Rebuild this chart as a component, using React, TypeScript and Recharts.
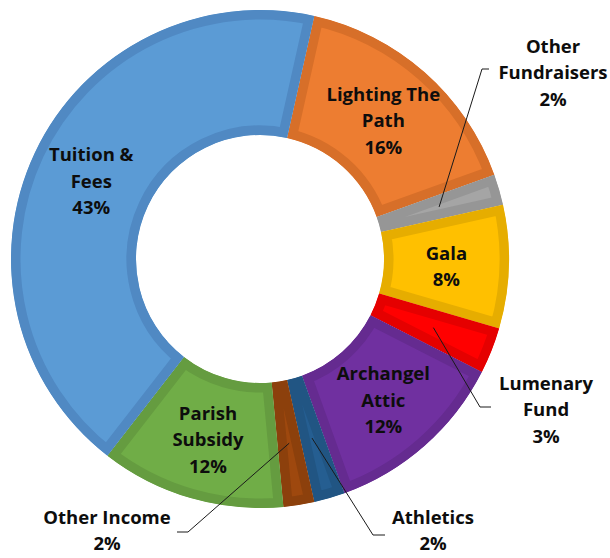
import { Pie, PieChart, Sector } from "recharts";

// slices clockwise from the top
const categories = [
  "Lighting The Path",
  "Other Fundraisers",
  "Gala",
  "Lumenary Fund",
  "Archangel Attic",
  "Athletics",
  "Other Income",
  "Parish Subsidy",
  "Tuition & Fees",
];
const shares = [16, 2, 8, 3, 12, 2, 2, 12, 43];

const fills = ["#ED7D31", "#A5A5A5", "#FFC000", "#FF0000", "#7030A0", "#255E91", "#9E480E", "#70AD47", "#5B9BD5"];
const borders = ["#D76F29", "#969696", "#E6AD00", "#E50000", "#652B90", "#215583", "#8C400C", "#659C40", "#5089C3"];

// labels that sit outside the ring, offsets from the pie centre
const outside: Record<string, { lx: number; ly: number; ex: number; ey: number; hx: number }> = {
  "Other Fundraisers": { lx: 293, ly: -188, ex: 222, ey: -190, hx: 229 },
  "Lumenary Fund": { lx: 286, ly: 149, ex: 220, ey: 148, hx: 231 },
  Athletics: { lx: 173, ly: 270, ex: 113, ey: 276, hx: 125 },
  "Other Income": { lx: -153, ly: 270, ex: -72, ey: 273, hx: -83 },
};

const data = categories.map((name, i) => ({ name, value: shares[i], fill: fills[i], border: borders[i] }));

const CX = 260;
const CY = 259;
const INNER = 124;
const OUTER = 249;
const LINE_H = 26.5;
const FONT = "'Open Sans', Lato, sans-serif";
const RAD = Math.PI / 180;

function wrap(text: string, max = 12) {
  const lines: string[] = [];
  let cur = "";
  text.split(" ").forEach((w) => {
    if (cur && (cur + " " + w).length > max) {
      lines.push(cur);
      cur = w;
    } else {
      cur = cur ? cur + " " + w : w;
    }
  });
  if (cur) lines.push(cur);
  return lines;
}

const SliceShape = (props: any) => {
  const { cx, cy, innerRadius, outerRadius, startAngle, endAngle, payload } = props;
  const entry = payload?.payload ?? payload ?? {};
  const id = "clip-" + String(entry.name ?? props.name).replace(/[^a-z]/gi, "");
  return (
    <g>
      <defs>
        <clipPath id={id}>
          <Sector cx={cx} cy={cy} innerRadius={innerRadius} outerRadius={outerRadius} startAngle={startAngle} endAngle={endAngle} />
        </clipPath>
      </defs>
      <g clipPath={`url(#${id})`}>
        <Sector
          cx={cx}
          cy={cy}
          innerRadius={innerRadius}
          outerRadius={outerRadius}
          startAngle={startAngle}
          endAngle={endAngle}
          fill={entry.fill ?? props.fill}
          stroke={entry.border ?? props.border}
          strokeWidth={19}
          strokeLinejoin="miter"
        />
      </g>
    </g>
  );
};

const renderLabel = (props: any) => {
  const { cx, cy, midAngle, innerRadius, outerRadius, name, percent } = props;
  const lines = [...wrap(name), `${Math.round(percent * 100)}%`];
  const r = (innerRadius + outerRadius) / 2;
  const px = cx + r * Math.cos(midAngle * RAD);
  const py = cy - r * Math.sin(midAngle * RAD);
  const o = outside[name];
  const tx = o ? cx + o.lx : px;
  const ty = o ? cy + o.ly : py;
  const y0 = ty - ((lines.length - 1) * LINE_H) / 2;
  return (
    <g>
      {o && (
        <polyline
          points={`${px},${py} ${cx + o.ex},${cy + o.ey} ${cx + o.hx},${cy + o.ey}`}
          fill="none"
          stroke="#1a1a1a"
          strokeWidth={1}
        />
      )}
      <text x={tx} y={y0} textAnchor="middle" dominantBaseline="central" fontFamily={FONT} fontWeight={700} fontSize={18.5} fill="#0d0d0d">
        {lines.map((l, i) => (
          <tspan key={i} x={tx} y={y0 + i * LINE_H}>
            {l}
          </tspan>
        ))}
      </text>
    </g>
  );
};

export default function App() {
  return (
    <div style={{ position: "absolute", left: 0, top: 0, width: 610, height: 558, background: "#fff" }}>
      <PieChart width={610} height={558} margin={{ top: 0, right: 0, bottom: 0, left: 0 }}>
        <Pie
          data={data}
          dataKey="value"
          nameKey="name"
          cx={CX}
          cy={CY}
          innerRadius={INNER}
          outerRadius={OUTER}
          startAngle={77.4}
          endAngle={-282.6}
          stroke="none"
          label={renderLabel}
          labelLine={false}
          shape={SliceShape}
          activeShape={SliceShape}
          isAnimationActive={false}
        />
      </PieChart>
    </div>
  );
}
